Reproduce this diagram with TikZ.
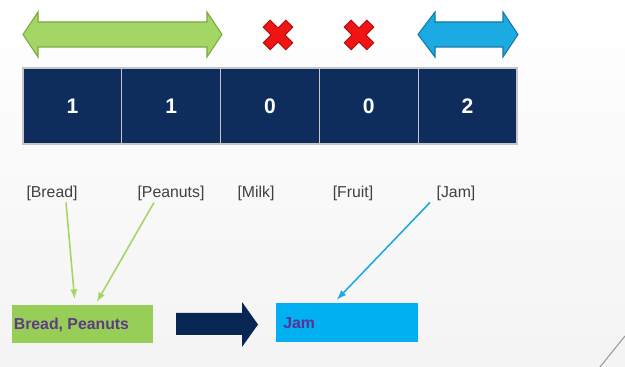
\documentclass[tikz,border=0pt]{standalone}
\usepackage{fontspec}
\setmainfont{Liberation Sans}
\usepackage{tikz}
\usetikzlibrary{positioning,arrows.meta,calc}
\definecolor{navy}{RGB}{14,44,92}
\definecolor{arrownavy}{RGB}{8,38,84}
\definecolor{lgreen}{RGB}{163,214,100}
\definecolor{dgreen}{RGB}{120,170,60}
\definecolor{boxgreen}{RGB}{150,206,88}
\definecolor{skyblue}{RGB}{28,170,226}
\definecolor{dskyblue}{RGB}{20,120,170}
\definecolor{boxblue}{RGB}{0,176,240}
\definecolor{grptext}{RGB}{95,60,130}
\definecolor{jamtext}{RGB}{90,50,150}
\definecolor{labelgray}{RGB}{64,64,64}
\definecolor{crossred}{RGB}{240,20,20}
\tikzset{
  cellnode/.style={draw=gray!45, line width=0.6pt, fill=navy, minimum width=1.976cm, minimum height=1.52cm, font=\bfseries\large, text=white},
  itemnode/.style={font=\small, text=labelgray, inner sep=1pt},
  groupbox/.style={minimum width=2.82cm, minimum height=0.77cm, inner sep=0pt},
  greenlink/.style={-{Latex[length=2mm,width=1.4mm]}, line width=0.9pt, lgreen},
  bluelink/.style={-{Latex[length=2mm,width=1.4mm]}, line width=0.9pt, skyblue}
}
\begin{document}
\begin{tikzpicture}
  \useasboundingbox (0,0) rectangle (12.5,7.34);
  \shade[top color=white, bottom color=gray!9] (0,0) rectangle (12.5,7.34);
  % counts row
  \node[cellnode] (c1) at (1.448,5.22) {1};
  \node[cellnode] (c2) at (3.424,5.22) {1};
  \node[cellnode] (c3) at (5.400,5.22) {0};
  \node[cellnode] (c4) at (7.376,5.22) {0};
  \node[cellnode] (c5) at (9.352,5.22) {2};
  % range markers above the cells
  \filldraw[fill=lgreen, draw=dgreen, line width=0.6pt] (0.46,6.65) -- (0.76,7.10) -- (0.76,6.90) -- (4.14,6.90) -- (4.14,7.10)
    -- (4.44,6.65) -- (4.14,6.20) -- (4.14,6.40) -- (0.76,6.40) -- (0.76,6.20) -- cycle;
  \filldraw[fill=skyblue, draw=dskyblue, line width=0.6pt] (8.36,6.65) -- (8.70,7.10) -- (8.70,6.90) -- (10.06,6.90) -- (10.06,7.10)
    -- (10.36,6.65) -- (10.06,6.20) -- (10.06,6.40) -- (8.70,6.40) -- (8.70,6.20) -- cycle;
  \foreach \cx in {5.56,7.18}{
    \filldraw[fill=crossred, draw=crossred!70!black, line width=0.5pt, shift={(\cx,6.64)}, rotate=45]
      (0.1,0.1) -- (0.1,0.32) -- (-0.1,0.32) -- (-0.1,0.1) -- (-0.32,0.1) -- (-0.32,-0.1) -- (-0.1,-0.1)
      -- (-0.1,-0.32) -- (0.1,-0.32) -- (0.1,-0.1) -- (0.32,-0.1) -- (0.32,0.1) -- cycle;
  }
  % item labels
  \node[itemnode] (bread) at (1.04,3.48) {[Bread]};
  \node[itemnode] (peanuts) at (3.42,3.48) {[Peanuts]};
  \node[itemnode] (milk) at (5.12,3.48) {[Milk]};
  \node[itemnode] (fruit) at (7.06,3.48) {[Fruit]};
  \node[itemnode] (jam) at (9.12,3.48) {[Jam]};
  % groups
  \node[groupbox, fill=boxgreen] (grp) at (1.65,0.86) {};
  \node[anchor=west, font=\small\bfseries, text=grptext, inner sep=0pt] (grptxt) at (0.27,0.84) {Bread, Peanuts};
  \node[groupbox, fill=boxblue, minimum width=2.84cm] (blu) at (6.94,0.89) {};
  \node[anchor=west, font=\small\bfseries, text=jamtext, inner sep=0pt] (blutxt) at (5.66,0.87) {Jam};
  \fill[arrownavy] (3.52,1.08) -- (4.84,1.08) -- (4.84,1.30) -- (5.16,0.85) -- (4.84,0.40) -- (4.84,0.64) -- (3.52,0.64) -- cycle;
  % links
  \draw[greenlink] ($(bread.south)+(0.28,0)$) -- ($(grp.north west)+(1.26,0.1)$);
  \draw[greenlink] ($(peanuts.south)+(-0.34,0)$) -- ($(grp.north west)+(1.70,0.04)$);
  \draw[bluelink] ($(jam.south)+(-0.52,0)$) -- ($(blu.north west)+(1.22,0.06)$);
  \draw[gray!80, line width=0.6pt] (12.0,0) -- (12.5,0.62);
\end{tikzpicture}
\end{document}
